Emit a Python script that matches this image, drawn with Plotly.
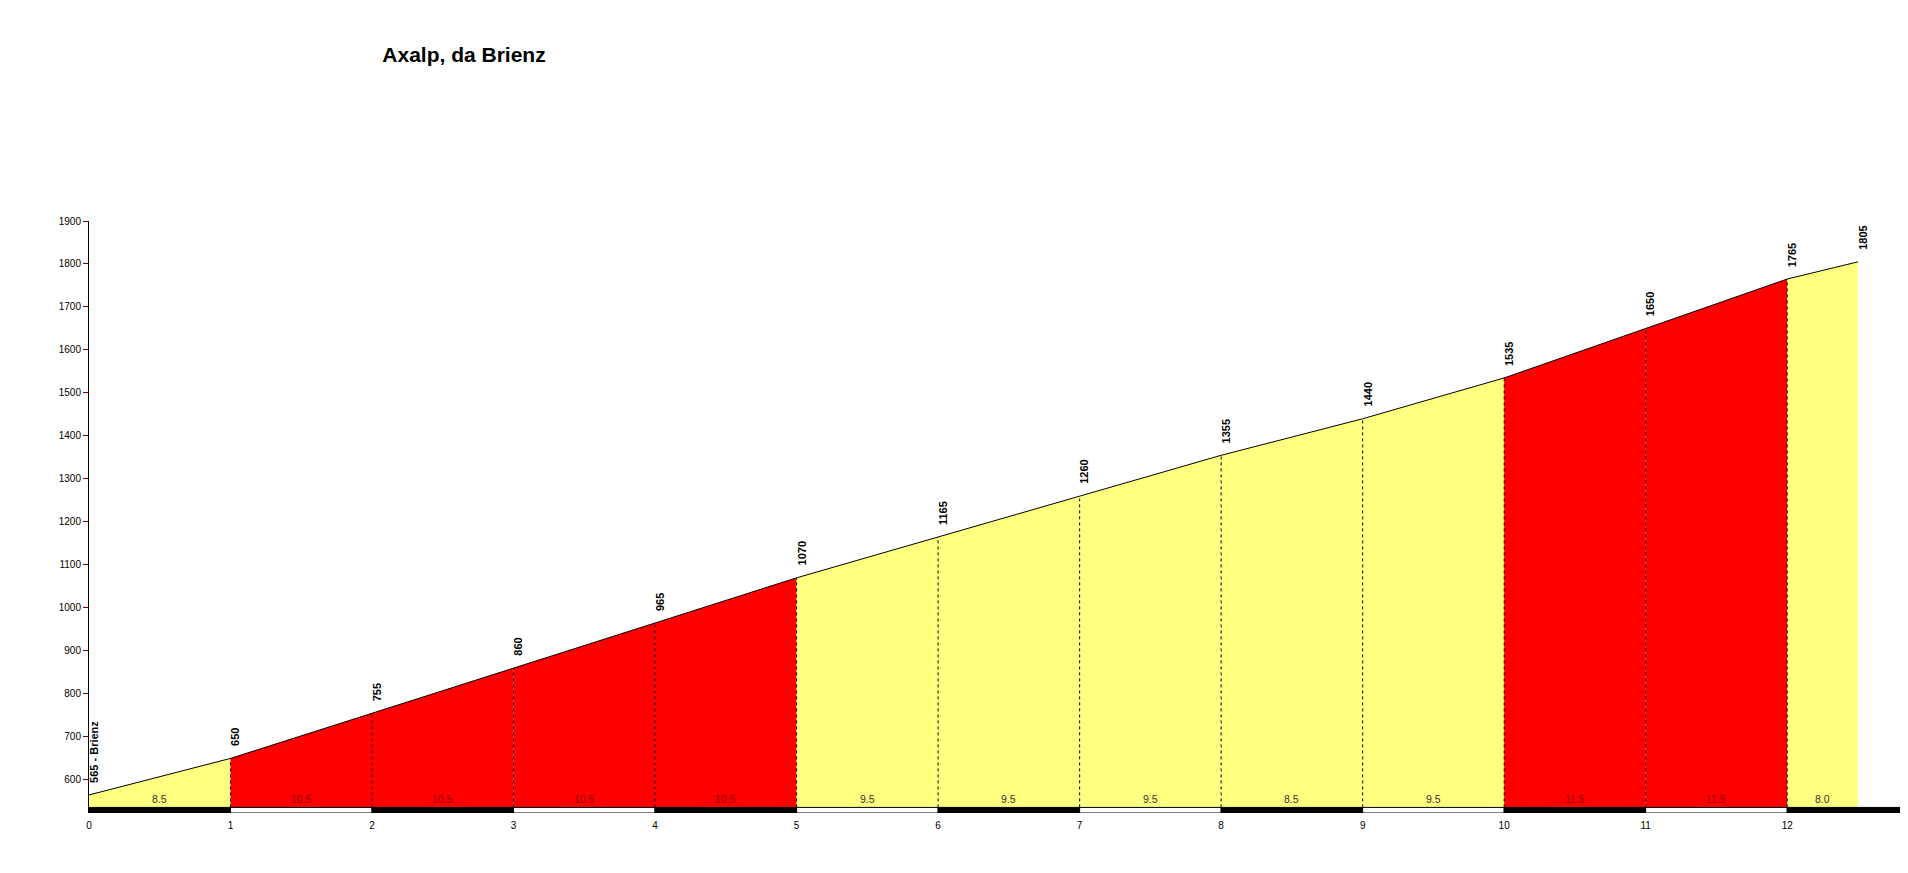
import plotly.graph_objects as go

# ---- data ----
km = [0, 1, 2, 3, 4, 5, 6, 7, 8, 9, 10, 11, 12, 12.5]
elev = [565, 650, 755, 860, 965, 1070, 1165, 1260, 1355, 1440, 1535, 1650, 1765, 1805]
elev_labels = ["565 - Brienz", "650", "755", "860", "965", "1070", "1165", "1260",
               "1355", "1440", "1535", "1650", "1765", "1805"]
grades = [8.5, 10.5, 10.5, 10.5, 10.5, 9.5, 9.5, 9.5, 8.5, 9.5, 11.5, 11.5, 8.0]
title = "Axalp, da Brienz"
y_ticks = [600, 700, 800, 900, 1000, 1100, 1200, 1300, 1400, 1500, 1600, 1700, 1800, 1900]
x_ticks = list(range(0, 13))

# ---- style ----
BASE = 536
YMIN, YMAX = 523, 1900
XMAX = 12.91
RED = "#FF0000"
YELLOW = "#FFFF80"
FONT = "Liberation Sans, Arial, sans-serif"

fig = go.Figure()

# coloured segments
for i, g in enumerate(grades):
    x0, x1 = km[i], km[i + 1]
    e0, e1 = elev[i], elev[i + 1]
    col = RED if g >= 10 else YELLOW
    fig.add_trace(go.Scatter(
        x=[x0, x0, x1, x1, x0], y=[BASE, e0, e1, BASE, BASE],
        fill="toself", fillcolor=col, mode="lines", line=dict(width=0, color=col),
        hoverinfo="skip", showlegend=False))

# profile line
fig.add_trace(go.Scatter(x=km, y=elev, mode="lines", line=dict(color="black", width=1),
                         showlegend=False, hoverinfo="skip"))

shapes = []
# dashed verticals
for k, e in zip(km[1:-1], elev[1:-1]):
    shapes.append(dict(type="line", xref="x", yref="y", x0=k, x1=k, y0=BASE, y1=e,
                       line=dict(color="black", width=1, dash="dot")))
# km bar
bar_edges = km[:-1] + [XMAX]
for i in range(len(bar_edges) - 1):
    black = (i % 2 == 0)
    shapes.append(dict(type="rect", xref="x", yref="y",
                       x0=bar_edges[i], x1=bar_edges[i + 1], y0=YMIN, y1=BASE,
                       fillcolor="black" if black else "white",
                       line=dict(color="black", width=1), layer="above"))

annotations = []
for k, e, lab in zip(km, elev, elev_labels):
    annotations.append(dict(x=k, y=e, xref="x", yref="y", text=lab, textangle=-90,
                            showarrow=False, xanchor="center", yanchor="bottom",
                            xshift=5, yshift=10,
                            font=dict(family=FONT, size=11, color="black", weight="bold")))
for i, g in enumerate(grades):
    mid = (km[i] + km[i + 1]) / 2
    annotations.append(dict(x=mid, y=BASE, xref="x", yref="y", text=f"{g:.1f}",
                            showarrow=False, xanchor="center", yanchor="bottom", yshift=0,
                            font=dict(family=FONT, size=10.5,
                                      color="#8a0000" if g >= 10 else "#333333")))

fig.update_layout(
    width=1908, height=873,
    margin=dict(l=81, r=0, t=213, b=68),
    paper_bgcolor="white", plot_bgcolor="white",
    shapes=shapes, annotations=annotations,
    title=dict(text=f"<b>{title}</b>", x=(464 - 8) / 1908, xanchor="center",
               y=1 - 47 / 873, yanchor="middle",
               font=dict(family=FONT, size=21, color="black")),
    xaxis=dict(range=[0, XMAX], tickvals=x_ticks, ticktext=[str(t) for t in x_ticks],
               showgrid=False, zeroline=False, showline=False, ticks="",
               ticklabelstandoff=5,
               tickfont=dict(family=FONT, size=10, color="black")),
    yaxis=dict(range=[YMIN, YMAX], tickvals=y_ticks, showgrid=False, zeroline=False,
               showline=True, linecolor="black", linewidth=1, ticks="outside",
               ticklen=5, tickcolor="#8a0000", tickwidth=1,
               tickfont=dict(family=FONT, size=10, color="black")),
)

fig.write_html("out.html")
